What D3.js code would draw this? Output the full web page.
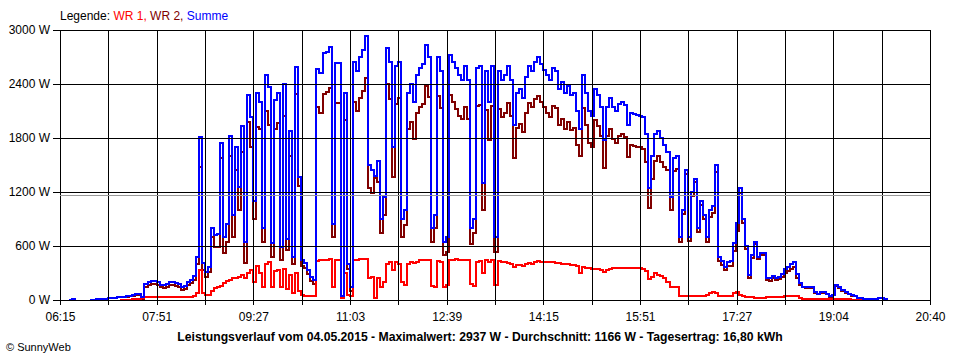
<!DOCTYPE html>
<html>
<head>
<meta charset="utf-8">
<script src="https://cdn.jsdelivr.net/npm/d3@7"></script>
<style>
body { margin: 0; background: #fff; }
text { font-family: "Liberation Sans", Arial, sans-serif; fill: #000; }
</style>
</head>
<body>
<script>
// data: one sample every 3 minutes from 06:15
const day = "2015-05-04";
const startTime = "06:15", endTime = "20:40";
const stepMin = 3;
const xLabels = ["06:15", "07:51", "09:27", "11:03", "12:39", "14:15", "15:51", "17:27", "19:04", "20:40"];
const yTicks = [0, 600, 1200, 1800, 2400, 3000];
const average = 1166;
const title = "Leistungsverlauf vom 04.05.2015 - Maximalwert: 2937 W - Durchschnitt: 1166 W - Tagesertrag: 16,80 kWh";

// WR 1 (red)
const wr1 = [
    null, null, null, null, null, null, null, null, null, null,
    null, null, null, null, null, null, null, null, null, null,
    3, 5, 5, 5, 8, 10, 12, 20, 30, 30,
    30, 30, 30, 30, 30, 30, 30, 30, 30, 30,
    32, 32, 32, 35, 50, 75, 330, 80, 55, 55,
    100, 130, 148, 160, 185, 210, 220, 240, 250, 260,
    280, 240, 300, 330, 200, 380, 300, 150, 400, 420,
    150, 320, 330, 140, 350, 120, 280, 80, 300, 100,
    60, 50, 45, 45, 40, 430, 440, 450, 450, 455,
    150, 440, 440, 20, 300, 60, 50, 450, 450, 460,
    455, 460, 250, 260, 20, 240, 150, 200, 400, 420,
    330, 420, 400, 200, 170, 400, 420, 410, 420, 440,
    440, 450, 440, 160, 150, 430, 420, 150, 170, 440,
    450, 460, 450, 440, 450, 440, 180, 160, 420, 430,
    300, 440, 420, 440, 170, 430, 420, 420, 410, 400,
    370, 390, 390, 380, 400, 410, 400, 420, 430, 420,
    420, 420, 420, 420, 415, 410, 405, 400, 400, 390,
    390, 380, 300, 370, 360, 360, 350, 350, 350, 330,
    310, 330, 350, 360, 360, 360, 360, 355, 360, 360,
    360, 355, 355, 350, 320, 230, 260, 300, 280, 270,
    240, 200, 150, 150, 140, 50, 45, 45, 40, 40,
    40, 40, 40, 45, 60, 80, 85, 75, 50, 40,
    40, 40, 50, 80, 90, 60, 40, 35, 30, 30,
    25, 25, 25, 25, 30, 30, 30, 28, 28, 35,
    45, 48, 50, 50, 40, 20, 10, 8, 8, 8,
    8, 8, 8, 8, 8, 8, 8, 8, 8, 8,
    6, 6, 5, 5, 4, 3, 2
];

// WR 2 (dark red)
const wr2 = [
    null, null, null, 0, 15, 0, null, null, null, null,
    5, 5, 8, 10, 12, 15, 18, 20, 25, 28,
    30, 32, 35, 40, 45, 55, 55, 15, 150, 170,
    178, 178, 165, 140, 135, 150, 170, 170, 160, 150,
    115, 120, 165, 190, 220, 400, 1480, 330, 260, 310,
    700, 590, 590, 1580, 520, 640, 1600, 700, 1450, 1000,
    1650, 410, 1980, 1700, 900, 1920, 1900, 650, 2100, 1950,
    480, 1900, 1970, 450, 2050, 560, 1600, 400, 2290, 1270,
    380, 360, 290, 215, 180, 2140, 2080, 2290, 2310, 2360,
    700, 2190, 2190, 30, 2000, 340, 100, 2200, 2100, 2240,
    2320, 2470, 1250, 1190, 1360, 1310, 750, 950, 2400, 2230,
    1370, 2180, 2250, 700, 830, 1900, 1980, 1790, 2080, 2140,
    2180, 2380, 2260, 640, 800, 2270, 2130, 500, 530, 2280,
    2200, 2120, 2050, 2010, 2150, 2010, 620, 740, 2160, 2170,
    1000, 2110, 1780, 2160, 530, 2120, 2030, 2080, 2190, 2050,
    1580, 1910, 1960, 1870, 2080, 2190, 2150, 2230, 2270, 2200,
    2140, 2080, 2030, 2160, 2135, 1940, 2015, 1900, 1980, 1890,
    1910, 1720, 1600, 2130, 1940, 1740, 1700, 2000, 1930, 1820,
    1470, 1820, 1900, 1790, 1740, 1820, 1840, 1815, 1590, 1720,
    1710, 1705, 1695, 1680, 1530, 1020, 1340, 1550, 1600, 1530,
    1480, 1450, 1000, 1430, 1460, 650, 955, 1405, 660, 1160,
    1310, 760, 1060, 905, 640, 920, 965, 1425, 430, 390,
    330, 380, 380, 550, 770, 1190, 860, 565, 250, 470,
    625, 455, 495, 495, 220, 210, 240, 222, 232, 255,
    295, 322, 350, 370, 250, 170, 140, 132, 132, 137,
    82, 62, 77, 77, 62, 37, 52, 157, 132, 102,
    79, 64, 50, 40, 21, 17, 13, 12, 11, 11,
    12, 18, 18, 10, 5
];

const margin = { top: 30, right: 30, bottom: 60, left: 60 },
    width = 960 - margin.left - margin.right,
    height = 360 - margin.top - margin.bottom;

const parseTime = d3.timeParse("%Y-%m-%d %H:%M");
const t0 = parseTime(day + " " + startTime),
    t1 = parseTime(day + " " + endTime);

const svg = d3.select("body").append("svg")
    .attr("width", 960)
    .attr("height", 360);

const g = svg.append("g")
    .attr("transform", "translate(" + margin.left + "," + margin.top + ")");

const x = d3.scaleTime().domain([t0, t1]).range([0, width]);
const y = d3.scaleLinear().domain([0, 3000]).range([height, 0]);

// build the series
const times = wr2.map((_, i) => d3.timeMinute.offset(t0, i * stepMin));
const series1 = times.map((t, i) => ({ t: t, v: wr1[i] == null ? null : wr1[i] }));
const series2 = times.map((t, i) => ({ t: t, v: wr2[i] }));
const seriesSum = times.map((t, i) => ({
    t: t,
    v: (wr1[i] == null && wr2[i] == null) ? null : (wr1[i] || 0) + (wr2[i] || 0)
}));

const line = d3.line()
    .defined(d => d.v != null)
    .x(d => x(d.t))
    .y(d => y(d.v))
    .curve(d3.curveStepAfter);

[[series2, "#800000"], [series1, "#ff0000"], [seriesSum, "#0000ff"]].forEach(s => {
    g.append("path").datum(s[0])
        .attr("fill", "none")
        .attr("stroke", s[1])
        .attr("stroke-width", 2)
        .attr("shape-rendering", "crispEdges")
        .attr("d", line);
});

// grid (drawn over the data, like the original)
const gridTimes = d3.range(19).map(i => new Date(+t0 + (t1 - t0) * i / 18));

g.append("g")
    .attr("class", "grid")
    .call(d3.axisLeft(y).tickValues(yTicks).tickSize(-width).tickFormat(""));
g.append("g")
    .attr("class", "grid")
    .attr("transform", "translate(0," + height + ")")
    .call(d3.axisBottom(x).tickValues(gridTimes).tickSize(-height).tickFormat(""));

// average line
g.append("line")
    .attr("x1", 0).attr("x2", width)
    .attr("y1", Math.round(y(average)) + 0.5).attr("y2", Math.round(y(average)) + 0.5)
    .attr("stroke", "#999").attr("stroke-width", 1);

// axes with outside ticks
g.append("g")
    .attr("class", "axis")
    .call(d3.axisLeft(y).tickValues(yTicks).tickSize(7).tickPadding(3)
        .tickFormat(d => d + " W"));

g.append("g")
    .attr("class", "axis")
    .attr("transform", "translate(0," + height + ")")
    .call(d3.axisBottom(x).tickValues(gridTimes).tickSize(5).tickPadding(7)
        .tickFormat((d, i) => i % 2 ? "" : xLabels[i / 2]));

g.selectAll(".grid .domain, .axis .domain").remove();
g.selectAll(".grid line, .axis line")
    .attr("stroke", "#000")
    .attr("shape-rendering", "crispEdges");
g.selectAll(".axis text")
    .attr("font-size", 12)
    .attr("fill", "#000");

// legend
const legend = svg.append("text")
    .attr("x", 60).attr("y", 20)
    .attr("font-size", 12);
legend.append("tspan").text("Legende: ");
legend.append("tspan").attr("fill", "#ff0000").text("WR 1, ");
legend.append("tspan").attr("fill", "#800000").text("WR 2, ");
legend.append("tspan").attr("fill", "#0000ff").text("Summe");

// title and footer
svg.append("text")
    .attr("x", 480).attr("y", 341)
    .attr("text-anchor", "middle")
    .attr("font-size", 12.2)
    .attr("font-weight", "bold")
    .text(title);

svg.append("text")
    .attr("x", 6).attr("y", 351)
    .attr("font-size", 11)
    .text("\u00a9 SunnyWeb");
</script>
</body>
</html>
